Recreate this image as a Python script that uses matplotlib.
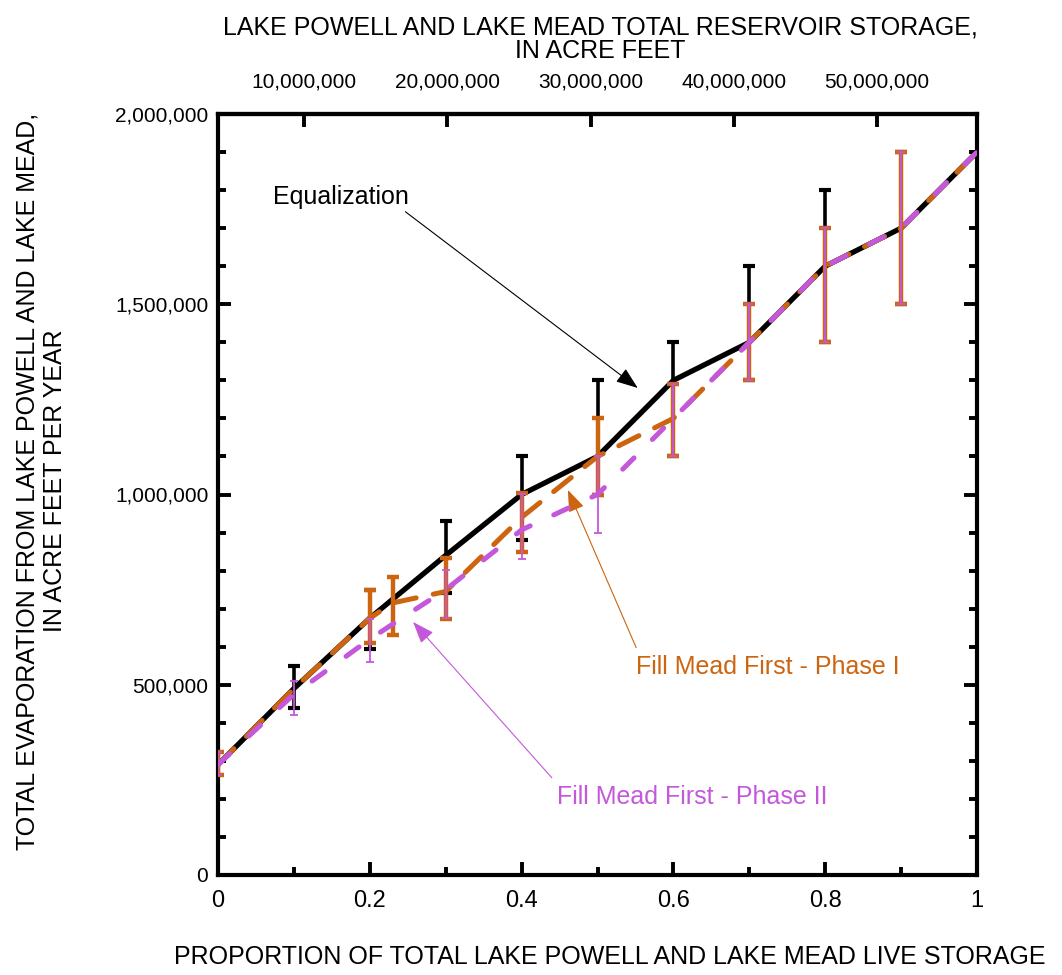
import numpy as np
import matplotlib.pyplot as plt
from matplotlib.ticker import MultipleLocator, FuncFormatter

plt.rcParams['font.family'] = ['Liberation Sans', 'DejaVu Sans']

# proportion of live storage
x_eq = [0, 0.1, 0.2, 0.3, 0.4, 0.5, 0.6, 0.7, 0.8, 0.9, 1.0]
# evaporation, acre-feet per year
y_eq = [290000, 490000, 675000, 840000, 1000000, 1100000, 1300000, 1400000, 1600000, 1700000, 1900000]
lo_eq = [np.nan, 440000, 593000, 742000, 880000, 1000000, 1100000, 1300000, 1400000, 1500000, np.nan]
hi_eq = [np.nan, 550000, 749000, 931000, 1101000, 1300000, 1400000, 1600000, 1800000, 1900000, np.nan]

x_p1 = [0, 0.1, 0.2, 0.23, 0.3, 0.4, 0.5, 0.6, 0.7, 0.8, 0.9, 1.0]
y_p1 = [290000, 490000, 675000, 715000, 745000, 940000, 1100000, 1200000, 1400000, 1600000, 1700000, 1900000]
lo_p1 = [263000, np.nan, 610000, 631000, 672000, 850000, 1000000, 1100000, 1300000, 1400000, 1500000, np.nan]
hi_p1 = [323000, np.nan, 749000, 782000, 832000, 1004000, 1200000, 1291000, 1500000, 1700000, 1900000, np.nan]

x_p2 = [0, 0.1, 0.2, 0.3, 0.4, 0.5, 0.6, 0.7, 0.8, 0.9, 1.0]
y_p2 = [290000, 475000, 620000, 750000, 907000, 1000000, 1200000, 1400000, 1600000, 1700000, 1900000]
lo_p2 = [263000, 420000, 560000, 675000, 830000, 900000, 1100000, 1300000, 1400000, 1500000, np.nan]
hi_p2 = [323000, 510000, 672000, 802000, 1001000, 1101000, 1291000, 1500000, 1700000, 1900000, np.nan]

# storage axis: total storage = dead + proportion * live
dead_storage = 4.0e6
live_storage = 52.97e6
storage_ticks = [10e6, 20e6, 30e6, 40e6, 50e6]

ORANGE = '#CC6410'
PURPLE = '#C458DA'


def err(y, lo, hi):
    y = np.array(y, float)
    return [y - np.array(lo, float), np.array(hi, float) - y]


def prop_label(v, p):
    if abs(v) < 1e-9:
        return '0'
    if abs(v - 1) < 1e-9:
        return '1'
    return f'{v:.1f}'


fig = plt.figure(figsize=(10.62, 9.75), dpi=100)
ax = fig.add_axes([218 / 1062, 100 / 975, 759 / 1062, 761 / 975])

# equalization
ax.errorbar(x_eq, y_eq, yerr=err(y_eq, lo_eq, hi_eq), fmt='none', ecolor='black',
            elinewidth=2.6, capsize=4.5, capthick=3, zorder=2)
ax.plot(x_eq, y_eq, color='black', lw=3.8, zorder=2.5)

# phase I
ax.errorbar(x_p1, y_p1, yerr=err(y_p1, lo_p1, hi_p1), fmt='none', ecolor=ORANGE,
            elinewidth=3.2, capsize=4.5, capthick=3.2, zorder=3)
ax.plot(x_p1, y_p1, color=ORANGE, lw=3.6, dashes=(4.5, 3.5), dash_capstyle='round', zorder=3.5)

# phase II
ax.errorbar(x_p2, y_p2, yerr=err(y_p2, lo_p2, hi_p2), fmt='none', ecolor=PURPLE,
            elinewidth=1.3, capsize=3.2, capthick=1.3, zorder=4)
ax.plot(x_p2, y_p2, color=PURPLE, lw=3.6, dashes=(3.2, 5.2), dash_capstyle='round',
        zorder=4.5)

ax.set_xlim(0, 1)
ax.set_ylim(0, 2000000)
ax.xaxis.set_major_locator(MultipleLocator(0.2))
ax.xaxis.set_minor_locator(MultipleLocator(0.1))
ax.yaxis.set_major_locator(MultipleLocator(500000))
ax.yaxis.set_minor_locator(MultipleLocator(100000))
ax.xaxis.set_major_formatter(FuncFormatter(prop_label))
ax.yaxis.set_major_formatter(FuncFormatter(lambda v, p: f'{v:,.0f}'))
ax.tick_params(which='both', direction='in', right=True, top=False, width=2.8, labelsize=15)
ax.tick_params(which='major', length=9.5)
ax.tick_params(which='minor', length=5.5)
ax.tick_params(axis='x', pad=11, labelsize=17)
ax.tick_params(axis='y', pad=7)
for s in ax.spines.values():
    s.set_linewidth(3)

sec = ax.secondary_xaxis('top', functions=(lambda p: dead_storage + p * live_storage,
                                           lambda s: (s - dead_storage) / live_storage))
sec.set_xticks(storage_ticks)
sec.xaxis.set_major_formatter(FuncFormatter(lambda v, p: f'{v:,.0f}'))
sec.tick_params(direction='in', length=9.5, width=2.8, labelsize=15, pad=16)
sec.spines['top'].set_linewidth(3)

# annotations
arrow = '-|>,head_length=0.75,head_width=0.28'
ax.annotate('Equalization', xy=(0.553, 1280000), xytext=(0.072, 1782000),
            fontsize=18, color='black', va='center', ha='left',
            arrowprops=dict(arrowstyle=arrow, color='black',
                            lw=0.8, shrinkA=0, shrinkB=0, relpos=(0.95, 0.0)))
ax.annotate('Fill Mead First - Phase I', xy=(0.461, 1012000), xytext=(0.551, 547000),
            fontsize=18, color=ORANGE, va='center', ha='left',
            arrowprops=dict(arrowstyle=arrow, color=ORANGE,
                            lw=0.8, shrinkA=0, shrinkB=0, relpos=(0.0, 1.3)))
ax.annotate('Fill Mead First - Phase II', xy=(0.257, 665000), xytext=(0.447, 205000),
            fontsize=18, color=PURPLE, va='center', ha='left',
            arrowprops=dict(arrowstyle=arrow, color=PURPLE,
                            lw=0.8, shrinkA=0, shrinkB=0, relpos=(-0.02, 1.3)))

# axis titles
fig.text(600 / 1062, 1 - 39 / 975, 'LAKE POWELL AND LAKE MEAD TOTAL RESERVOIR STORAGE,\nIN ACRE FEET',
         ha='center', va='center', multialignment='center', fontsize=18, linespacing=1.0)
fig.text(610 / 1062, 1 - 957 / 975, 'PROPORTION OF TOTAL LAKE POWELL AND LAKE MEAD LIVE STORAGE',
         ha='center', va='center', fontsize=18)
fig.text(41 / 1062, 1 - 481 / 975, 'TOTAL EVAPORATION FROM LAKE POWELL AND LAKE MEAD,\nIN ACRE FEET PER YEAR',
         ha='center', va='center', multialignment='center', rotation=90, fontsize=18,
         linespacing=1.2)

fig.savefig('out.png', dpi=100)
